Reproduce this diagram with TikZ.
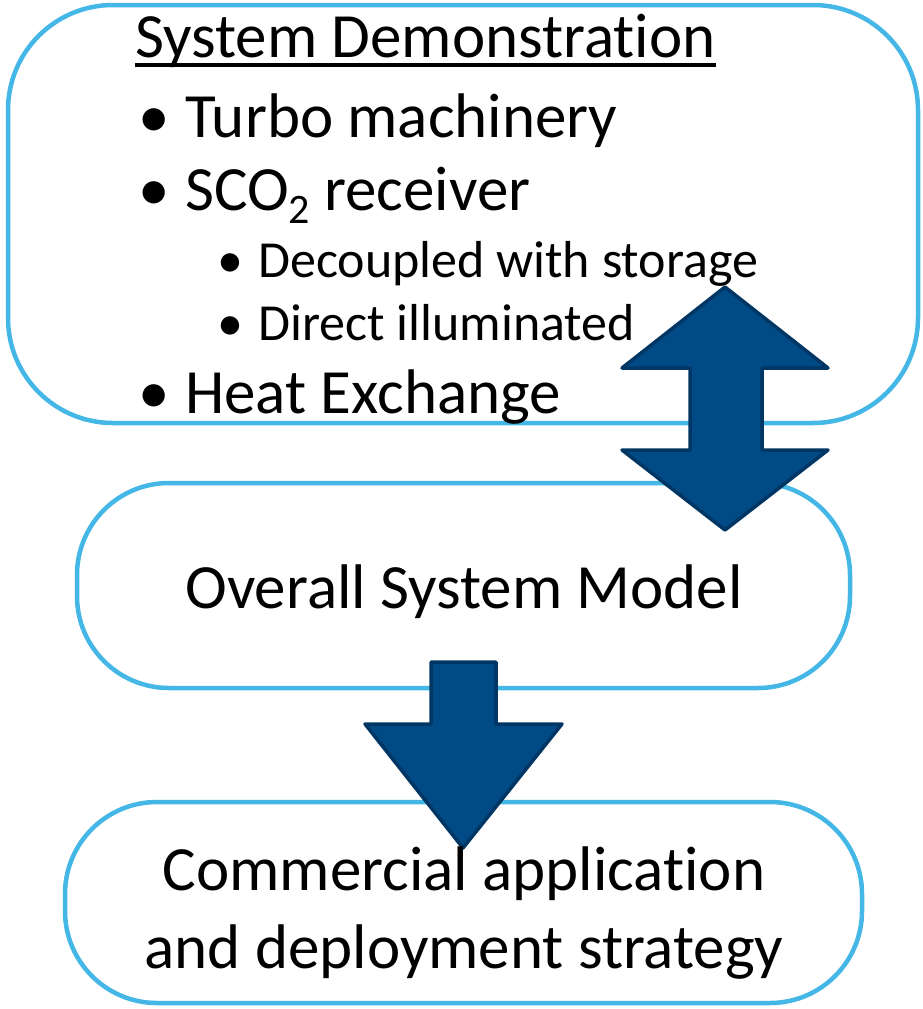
\documentclass[tikz,border=0pt]{standalone}
\usepackage{fontspec}
\setmainfont{Carlito}[Ligatures={NoCommon}]
\definecolor{boxline}{HTML}{45B7E6}
\definecolor{arrowfill}{HTML}{004A86}
\definecolor{arrowline}{HTML}{003663}
\begin{document}
\begin{tikzpicture}[x=1pt,y=-1pt,
  box/.style={draw=boxline,line width=4.5pt,fill=white},
  bigarrow/.style={fill=arrowfill,draw=arrowline,line width=3.5pt,line join=round},
  maintext/.style={anchor=base west,inner sep=0pt,font=\fontsize{63}{70}\selectfont},
  subtext/.style={anchor=base west,inner sep=0pt,font=\fontsize{52}{60}\selectfont},
  ctext/.style={anchor=base,inner sep=0pt,font=\fontsize{63}{70}\selectfont}]
\useasboundingbox (0,0) rectangle (923,1009);
% boxes
\draw[box,rounded corners=105pt] (8,5) rectangle (918,423);
\draw[box,rounded corners=92pt] (77,483) rectangle (850,688);
\draw[box,rounded corners=92pt] (65,802) rectangle (862,1003);
% arrows
\draw[bigarrow] (725,287) -- (828,368) -- (762,368) -- (762,450) -- (828,450) -- (725,530)
  -- (622,450) -- (690,450) -- (690,368) -- (622,368) -- cycle;
\draw[bigarrow] (431,662) -- (496,662) -- (496,724) -- (562,724) -- (463,848)
  -- (365,724) -- (431,724) -- cycle;
% text
\node[maintext] (title) at (135,57) {System Demonstration};
\draw[line width=3.5pt] ([yshift=-8pt]title.base west) -- ([yshift=-8pt]title.base east);
\node[maintext] (bul1) at (138,137) {•};
\node[maintext] (t1) at (185,137) {Turbo machinery};
\node[maintext] (bul2) at (138,210) {•};
\node[maintext] (t2) at (185,210) {SCO\raisebox{-0.22em}{\fontsize{42}{44}\selectfont 2} receiver};
\node[subtext] (bul3) at (217,277) {•};
\node[subtext] (t3) at (258,277) {Decoupled with storage};
\node[subtext] (bul4) at (217,340) {•};
\node[subtext] (t4) at (258,340) {Direct illuminated};
\node[maintext] (bul5) at (138,413) {•};
\node[maintext] (t5) at (185,413) {Heat Exchange};
\node[ctext] (m) at (464,608) {Overall System Model};
\node[ctext] (c1) at (464,890) {Commercial application};
\node[ctext] (c2) at (464,968) {and deployment strategy};
\end{tikzpicture}
\end{document}
